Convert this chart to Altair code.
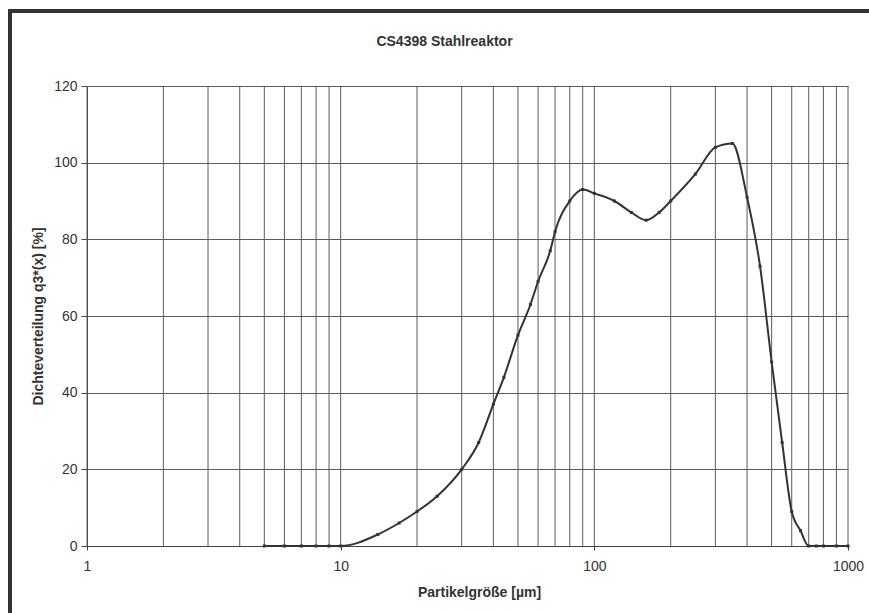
import altair as alt
import pandas as pd

# Particle size classes [µm] and density distribution q3*(x) [%]
size_um = [5, 6, 7, 8, 9, 10, 14, 17, 20, 24, 30, 35, 40, 44, 50, 56, 60, 67, 70,
           80, 90, 100, 120, 140, 160, 180, 200, 250, 300, 350, 400, 450, 500,
           550, 600, 650, 700, 750, 800, 900, 1000]
q3_pct = [0, 0, 0, 0, 0, 0, 3, 6, 9, 13, 20, 27, 37, 44, 55, 63, 69, 77, 82,
          90, 93, 92, 90, 87, 85, 87, 90, 97, 104, 105, 91, 73, 48,
          27, 9, 4, 0, 0, 0, 0, 0]

# Logarithmic grid positions (1-9, 10-90, 100-1000)
grid_x = [1, 2, 3, 4, 5, 6, 7, 8, 9,
          10, 20, 30, 40, 50, 60, 70, 80, 90,
          100, 200, 300, 400, 500, 600, 700, 800, 900, 1000]
major_x = [1, 10, 100, 1000]
y_ticks = [0, 20, 40, 60, 80, 100, 120]

df = pd.DataFrame({"x": size_um, "q3": q3_pct})
grid_df = pd.DataFrame({"g": grid_x})

FONT = "Liberation Sans"
GRID = "#5c5c5c"
INK = "#333333"

x_scale = alt.Scale(type="log", domain=[1, 1000], nice=False)
y_scale = alt.Scale(domain=[0, 120], nice=False)

x_axis = alt.Axis(
    values=major_x,
    format="d",
    grid=False,
    ticks=True,
    tickSize=4,
    tickColor="#444",
    domain=True,
    domainColor="#444",
    labelPadding=9,
    labelFlush=False,
    labelOverlap=False,
    labelFont=FONT,
    labelFontSize=14,
    labelColor=INK,
    title="Partikelgröße [µm]",
    titleFont=FONT,
    titleFontSize=14,
    titleFontWeight="bold",
    titleColor=INK,
    titleX=392,
    titleY=50,
    titleBaseline="alphabetic",
)

y_axis = alt.Axis(
    values=y_ticks,
    grid=True,
    gridColor=GRID,
    gridWidth=1,
    ticks=True,
    tickSize=6,
    tickColor="#444",
    domain=True,
    domainColor="#444",
    labelPadding=4,
    labelFont=FONT,
    labelFontSize=14,
    labelColor=INK,
    title="Dichteverteilung q3*(x) [%]",
    titleFont=FONT,
    titleFontSize=14,
    titleFontWeight="bold",
    titleColor=INK,
    titlePadding=8,
)

# vertical log gridlines, one rule per grid value
vgrid = alt.Chart(grid_df).mark_rule(color=GRID, strokeWidth=1).encode(
    x=alt.X("g:Q", scale=x_scale, axis=x_axis)
)

# outer chart border
frame = alt.Chart(grid_df).mark_rect(
    fill=None, stroke=INK, strokeWidth=2.5, clip=False
).encode(
    x=alt.value(-77), x2=alt.value(900), y=alt.value(-75), y2=alt.value(600)
)

line = alt.Chart(df).mark_line(
    color=INK, strokeWidth=2, interpolate="monotone"
).encode(
    x=alt.X("x:Q", scale=x_scale, axis=x_axis),
    y=alt.Y("q3:Q", scale=y_scale, axis=y_axis),
)

pts = alt.Chart(df).mark_point(
    filled=True, color=INK, size=9, shape="square", opacity=1
).encode(
    x=alt.X("x:Q", scale=x_scale, axis=x_axis),
    y=alt.Y("q3:Q", scale=y_scale, axis=y_axis),
)

chart = (
    alt.layer(frame, vgrid, line, pts)
    .properties(
        width=761,
        height=460,
        title=alt.TitleParams(
            "CS4398 Stahlreaktor",
            font=FONT,
            fontSize=14,
            fontWeight="bold",
            color=INK,
            anchor="middle",
            dx=-23,
            offset=-50,
            baseline="alphabetic",
        ),
        autosize=alt.AutoSizeParams(type="none"),
        padding={"left": 87, "top": 86, "right": 21, "bottom": 67},
        background="white",
    )
    .configure_view(stroke=None)
)

chart.save("out.html", embed_options={"renderer": "svg", "actions": False})
